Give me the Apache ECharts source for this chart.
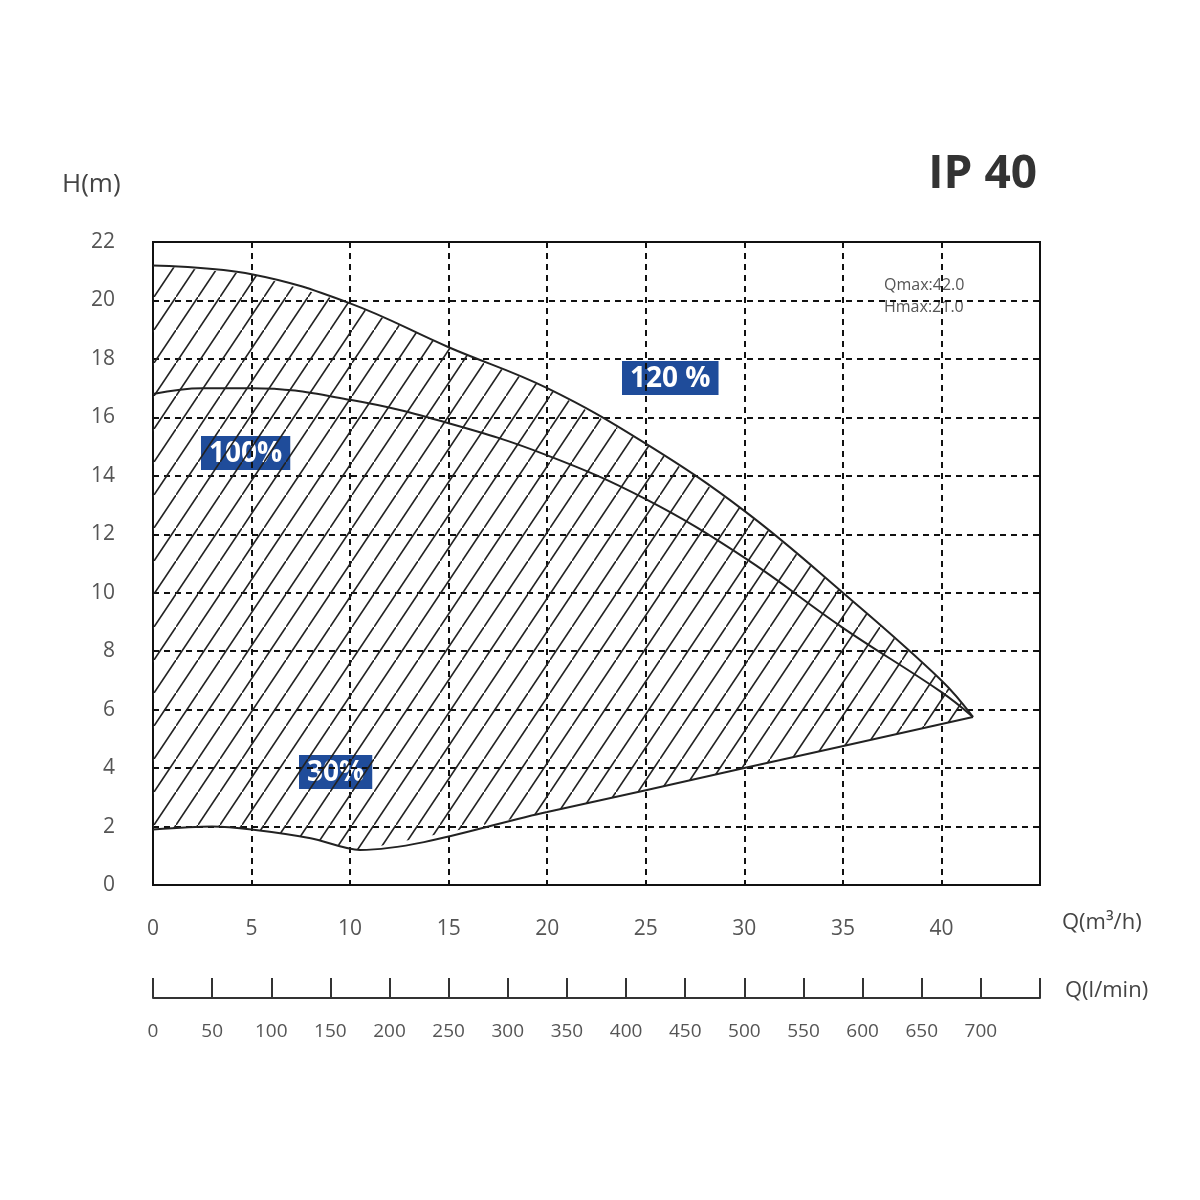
<!DOCTYPE html>
<html><head><meta charset="utf-8">
<script src="https://cdn.jsdelivr.net/npm/echarts@6/dist/echarts.min.js"></script>
<style>html,body{margin:0;background:#fff}#c{width:1200px;height:1200px}</style>
</head><body><div id="c"></div>
<script>
const curve120 = [[0,21.2],[5,20.9],[10,19.9],[15,18.4],[20,17.0],[25,15.1],[30,12.8],[35,10.0],[40,7.0],[41.6,5.75]];
const curve100 = [[0,16.8],[2.5,17.0],[5,17.0],[10,16.6],[15,15.8],[20,14.7],[25,13.2],[30,11.2],[35,8.8],[40,6.6],[41.6,5.75]];
const curve30 = [[0,1.9],[3,2.0],[5,1.9],[8,1.6],[10.5,1.2],[20,2.5],[30,4.0],[41.6,5.75]];
const qTicksM3 = [0,5,10,15,20,25,30,35,40];
const qTicksL = [0,50,100,150,200,250,300,350,400,450,500,550,600,650,700];

const tile = document.createElement('canvas');
tile.width = 22; tile.height = 33;
const tx = tile.getContext('2d');
tx.strokeStyle = '#222'; tx.lineWidth = 1.6;
tx.beginPath(); tx.moveTo(-2,36); tx.lineTo(24,-3); tx.stroke();

const poly = curve120.concat(curve30.slice().reverse());
const font = 'Open Sans';
const chart = echarts.init(document.getElementById('c'));
const label = (txt, x, y) => ({type:'text', left:x, top:y, style:{text:txt, fill:'#fff', font:'bold 28px "Open Sans"', backgroundColor:'#1f4c9a', padding:[4,8,2,8]}});
chart.setOption({
  animation:false,
  grid:[{left:153,right:160,top:242,bottom:315,show:true,borderColor:'#111',borderWidth:2},
        {left:153,right:160,top:998,height:0}],
  xAxis:[{gridIndex:0,type:'value',min:0,max:45,interval:5,
      axisLine:{show:false},axisTick:{show:false},
      axisLabel:{margin:34,color:'#555',fontSize:21,fontFamily:font,formatter:v=>qTicksM3.includes(v)?v:''},
      splitLine:{show:true,lineStyle:{type:[6,5],color:'#111',width:2}}},
    {gridIndex:1,type:'value',min:0,max:750,interval:50,
      axisLine:{show:true,lineStyle:{color:'#333',width:2}},
      axisTick:{inside:true,length:20,lineStyle:{color:'#333',width:2}},
      axisLabel:{margin:24,color:'#555',fontSize:19,fontFamily:font,formatter:v=>qTicksL.includes(v)?v:''},
      splitLine:{show:false}}],
  yAxis:[{gridIndex:0,type:'value',min:0,max:22,interval:2,
      axisLine:{show:false},axisTick:{show:false},
      axisLabel:{margin:38,color:'#555',fontSize:21,fontFamily:font},
      splitLine:{show:true,lineStyle:{type:[6,5],color:'#111',width:2}}},
    {gridIndex:1,type:'value',show:false}],
  series:[
    {type:'custom',xAxisIndex:0,yAxisIndex:0,data:[[0,0]],silent:true,
      renderItem:(p,api)=>({type:'polygon',shape:{points:poly.map(d=>api.coord(d))},
        style:{fill:{image:tile,repeat:'repeat'},stroke:null}})},
    {type:'line',data:curve120,smooth:0.4,symbol:'none',lineStyle:{color:'#222',width:2}},
    {type:'line',data:curve100,smooth:0.4,symbol:'none',lineStyle:{color:'#222',width:2}},
    {type:'line',data:curve30,smooth:0.3,symbol:'none',lineStyle:{color:'#222',width:2}}
  ],
  graphic:[
    {type:'text',right:163,top:152,style:{text:'IP 40',fill:'#333',font:'bold 46px "Open Sans"'}},
    {type:'text',left:62,top:172,style:{text:'H(m)',fill:'#444',font:'26px "Open Sans"'}},
    {type:'text',left:884,top:274,style:{text:'Qmax:42.0\nHmax:21.0',fill:'#555',font:'16px "Open Sans"',lineHeight:22}},
    {type:'text',left:1062,top:912,style:{text:'Q(m³/h)',fill:'#444',font:'22px "Open Sans"'}},
    {type:'text',left:1065,top:980,style:{text:'Q(l/min)',fill:'#444',font:'22px "Open Sans"'}},
    label('120 %',622,361), label('100%',201,436), label('30%',299,755)
  ]
});
</script></body></html>
